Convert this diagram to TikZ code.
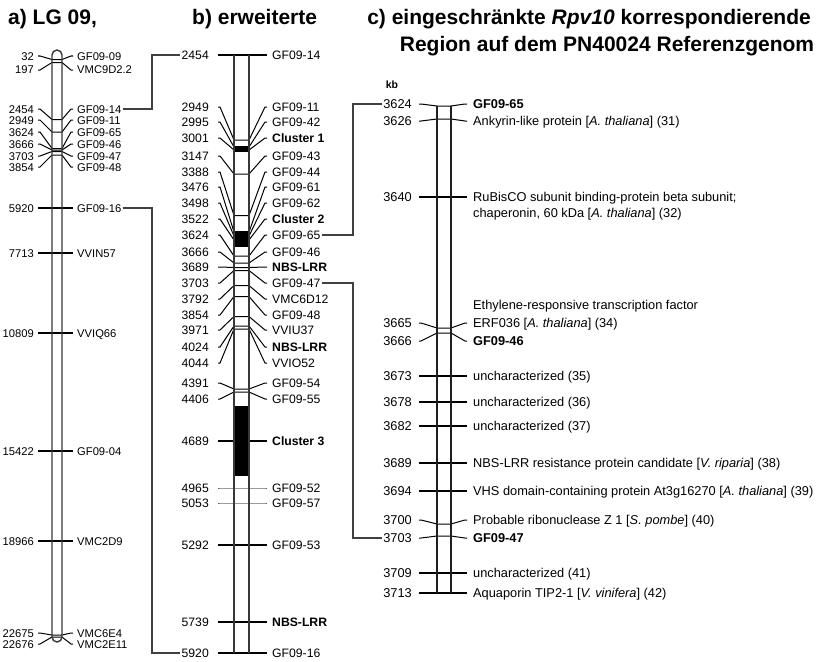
\documentclass[tikz,border=0pt]{standalone}
\usepackage{fontspec}
\setmainfont{Liberation Sans}
\usetikzlibrary{calc}
\tikzset{
 thinln/.style={line width=1pt, black},
 thickln/.style={line width=2pt, black},
 greyln/.style={line width=1pt, black!60},
 barln/.style={draw=black!78, line width=1.4pt},
 link/.style={draw=black!75, line width=1.1pt},
 lab/.style={inner xsep=0pt, inner ysep=0pt, text depth=0pt},
 alab/.style={lab, font=\fontsize{11.2}{13}\selectfont, text height=8pt},
 blab/.style={lab, font=\fontsize{12.2}{14}\selectfont, text height=8.7pt},
 clab/.style={lab, font=\fontsize{12.8}{15}\selectfont, text height=9.2pt},
 titletxt/.style={inner sep=0pt, font=\bfseries\fontsize{21}{25}\selectfont, text height=15pt, text depth=0pt},
 kbtxt/.style={inner sep=0pt, font=\bfseries\fontsize{10.5}{12}\selectfont},
}
% #1 panel, #2 id, #3 number, #4 name, #5 label y, #6 true y, #7 line style
\newcommand\mkr[7]{%
 \node[plab, anchor=east] (#1n#2) at (\pNumX,#5) {#3};
 \node[plab, anchor=west] (#1m#2) at (\pNameX,#5) {#4};
 \coordinate (#1p#2) at (\pBarL,#6);
 \coordinate (#1q#2) at (\pBarR,#6);
 \draw[#7] ($(#1n#2.east)+(\pGapL,0)$) -- ++(\pHook,0) -- (#1p#2) -- (#1q#2)
   -- ($(#1m#2.west)+(-\pGapR-\pHook,0)$) -- ++(\pHook,0);
}
\begin{document}
\begin{tikzpicture}[x=1pt,y=-1pt]
\fill[white] (0,0) rectangle (826,661);
\path[use as bounding box] (0,0) rectangle (826,661);

% titles
\node[titletxt, anchor=west] (ta) at (8,17) {a) LG 09,};
\node[titletxt, anchor=west] (tb) at (192,17) {b) erweiterte};
\node[titletxt, anchor=east] (tc1) at (811,17) {c) eingeschränkte \textit{Rpv10} korrespondierende};
\node[titletxt] (tc2) at (607,44) {Region auf dem PN40024 Referenzgenom};

% ---------------- panel a ----------------
\fill[white] (52,50) rectangle (62,642);
\def\pNumX{34}\def\pGapL{4}\def\pHook{2}\def\pBarL{52}\def\pBarR{62}\def\pNameX{77}\def\pGapR{4}
\tikzset{plab/.style={alab}}
\mkr{a}{1}{32}{GF09-09}{56}{59.5}{thinln}
\mkr{a}{2}{197}{VMC9D2.2}{70}{62.5}{thinln}
\mkr{a}{3}{2454}{GF09-14}{109}{119.5}{thinln}
\mkr{a}{4}{2949}{GF09-11}{120}{132}{thinln}
\mkr{a}{5}{3624}{GF09-65}{132}{148.5}{thinln}
\mkr{a}{6}{3666}{GF09-46}{144}{150}{thinln}
\mkr{a}{7}{3703}{GF09-47}{156}{151.5}{thinln}
\mkr{a}{8}{3854}{GF09-48}{167}{155}{thinln}
\mkr{a}{9}{5920}{GF09-16}{208}{208}{thickln}
\mkr{a}{10}{7713}{VVIN57}{253}{253}{thickln}
\mkr{a}{11}{10809}{VVIQ66}{333}{333}{thickln}
\mkr{a}{12}{15422}{GF09-04}{451}{451}{thickln}
\mkr{a}{13}{18966}{VMC2D9}{541}{541}{thickln}
\mkr{a}{14}{22675}{VMC6E4}{633}{635}{thinln}
\mkr{a}{15}{22676}{VMC2E11}{644}{637}{thinln}
\draw[barln, rounded corners=5pt] (52,50) rectangle (62,642);

% ---------------- panel b ----------------
\fill[white] (234,55) rectangle (249,653);
\fill[black] (234,146) rectangle (249,152);
\fill[black] (234,231) rectangle (249,247);
\fill[black] (234,406) rectangle (249,476);
\def\pNumX{209}\def\pGapL{9}\def\pHook{2}\def\pBarL{234}\def\pBarR{249}\def\pNameX{272}\def\pGapR{5}
\tikzset{plab/.style={blab}}
\mkr{b}{1}{2454}{GF09-14}{55}{55}{thickln}
\mkr{b}{2}{2949}{GF09-11}{107}{140}{thinln}
\mkr{b}{3}{2995}{GF09-42}{122}{147}{thinln}
\mkr{b}{4}{3001}{\bfseries Cluster 1}{138}{150}{thinln}
\mkr{b}{5}{3147}{GF09-43}{156}{174}{thinln}
\mkr{b}{6}{3388}{GF09-44}{172}{215.5}{thinln}
\mkr{b}{7}{3476}{GF09-61}{187}{232}{thinln}
\mkr{b}{8}{3498}{GF09-62}{203}{236}{thinln}
\mkr{b}{9}{3522}{\bfseries Cluster 2}{219}{240}{thinln}
\mkr{b}{10}{3624}{GF09-65}{235}{256}{thinln}
\mkr{b}{11}{3666}{GF09-46}{252}{263}{thinln}
\mkr{b}{12}{3689}{\bfseries NBS-LRR}{267}{267.5}{thinln}
\mkr{b}{13}{3703}{GF09-47}{283}{270.5}{thinln}
\mkr{b}{14}{3792}{VMC6D12}{299}{285.5}{thinln}
\mkr{b}{15}{3854}{GF09-48}{315}{296.5}{thinln}
\mkr{b}{16}{3971}{VVIU37}{330}{316.5}{thinln}
\mkr{b}{17}{4024}{\bfseries NBS-LRR}{347}{326}{thinln}
\mkr{b}{18}{4044}{VVIO52}{363}{329}{thinln}
\mkr{b}{19}{4391}{GF09-54}{383}{389}{thinln}
\mkr{b}{20}{4406}{GF09-55}{399}{392}{thinln}
\mkr{b}{21}{4689}{\bfseries Cluster 3}{441}{441}{thickln}
\mkr{b}{22}{4965}{GF09-52}{488}{488}{greyln}
\mkr{b}{23}{5053}{GF09-57}{503}{503}{greyln}
\mkr{b}{24}{5292}{GF09-53}{545}{545}{thickln}
\mkr{b}{25}{5739}{\bfseries NBS-LRR}{622}{622}{thickln}
\mkr{b}{26}{5920}{GF09-16}{653}{653}{thickln}
\draw[barln] (234,55) -- (234,653);
\draw[barln] (249,55) -- (249,653);

% ---------------- panel c ----------------
\node[kbtxt] (kb) at (392,85) {kb};
\fill[white] (437,106) rectangle (451,593);
\def\pNumX{412}\def\pGapL{7}\def\pHook{2}\def\pBarL{437}\def\pBarR{451}\def\pNameX{473}\def\pGapR{6}
\tikzset{plab/.style={clab}}
\mkr{c}{1}{3624}{\bfseries GF09-65}{104}{106}{thinln}
\mkr{c}{2}{3626}{Ankyrin-like protein [\textit{A. thaliana}] (31)}{121}{119}{thinln}
\mkr{c}{3}{3640}{RuBisCO subunit binding-protein beta subunit;}{197}{197}{thickln}
\mkr{c}{4}{3665}{ERF036 [\textit{A. thaliana}] (34)}{323}{328}{thinln}
\mkr{c}{5}{3666}{\bfseries GF09-46}{341}{333}{thinln}
\mkr{c}{6}{3673}{uncharacterized (35)}{376}{376}{thickln}
\mkr{c}{7}{3678}{uncharacterized (36)}{402}{402}{thickln}
\mkr{c}{8}{3682}{uncharacterized (37)}{426}{426}{thickln}
\mkr{c}{9}{3689}{NBS-LRR resistance protein candidate [\textit{V. riparia}] (38)}{463}{463}{thickln}
\mkr{c}{10}{3694}{VHS domain-containing protein At3g16270 [\textit{A. thaliana}] (39)}{491}{491}{thickln}
\mkr{c}{11}{3700}{Probable ribonuclease Z 1 [\textit{S. pombe}] (40)}{520}{524}{thinln}
\mkr{c}{12}{3703}{\bfseries GF09-47}{538}{536}{thinln}
\mkr{c}{13}{3709}{uncharacterized (41)}{573}{573}{thickln}
\mkr{c}{14}{3713}{Aquaporin TIP2-1 [\textit{V. vinifera}] (42)}{593}{593}{thickln}
\node[clab, anchor=west] (c3b) at (473,213) {chaperonin, 60 kDa [\textit{A. thaliana}] (32)};
\node[clab, anchor=west] (c4a) at (473,305) {Ethylene-responsive transcription factor};
\draw[barln, draw=black!88, line width=1.3pt] (437,106) -- (437,593);
\draw[barln, draw=black!88, line width=1.3pt] (451,106) -- (451,593);

% ---------------- links ----------------
\coordinate (jab) at (152,0);
\coordinate (jbc) at (353,0);
\draw[link] ($(am3.east)+(1,0)$) -| (jab |- bn1.west) -- ($(bn1.west)+(-1,0)$);
\draw[link] ($(am9.east)+(1,0)$) -| (jab |- bn26.west) -- ($(bn26.west)+(-1,0)$);
\draw[link] ($(bm10.east)+(1,0)$) -| (jbc |- cn1.west) -- ($(cn1.west)+(-1,0)$);
\draw[link] ($(bm13.east)+(1,0)$) -| (jbc |- cn12.west) -- ($(cn12.west)+(-1,0)$);
\end{tikzpicture}
\end{document}
